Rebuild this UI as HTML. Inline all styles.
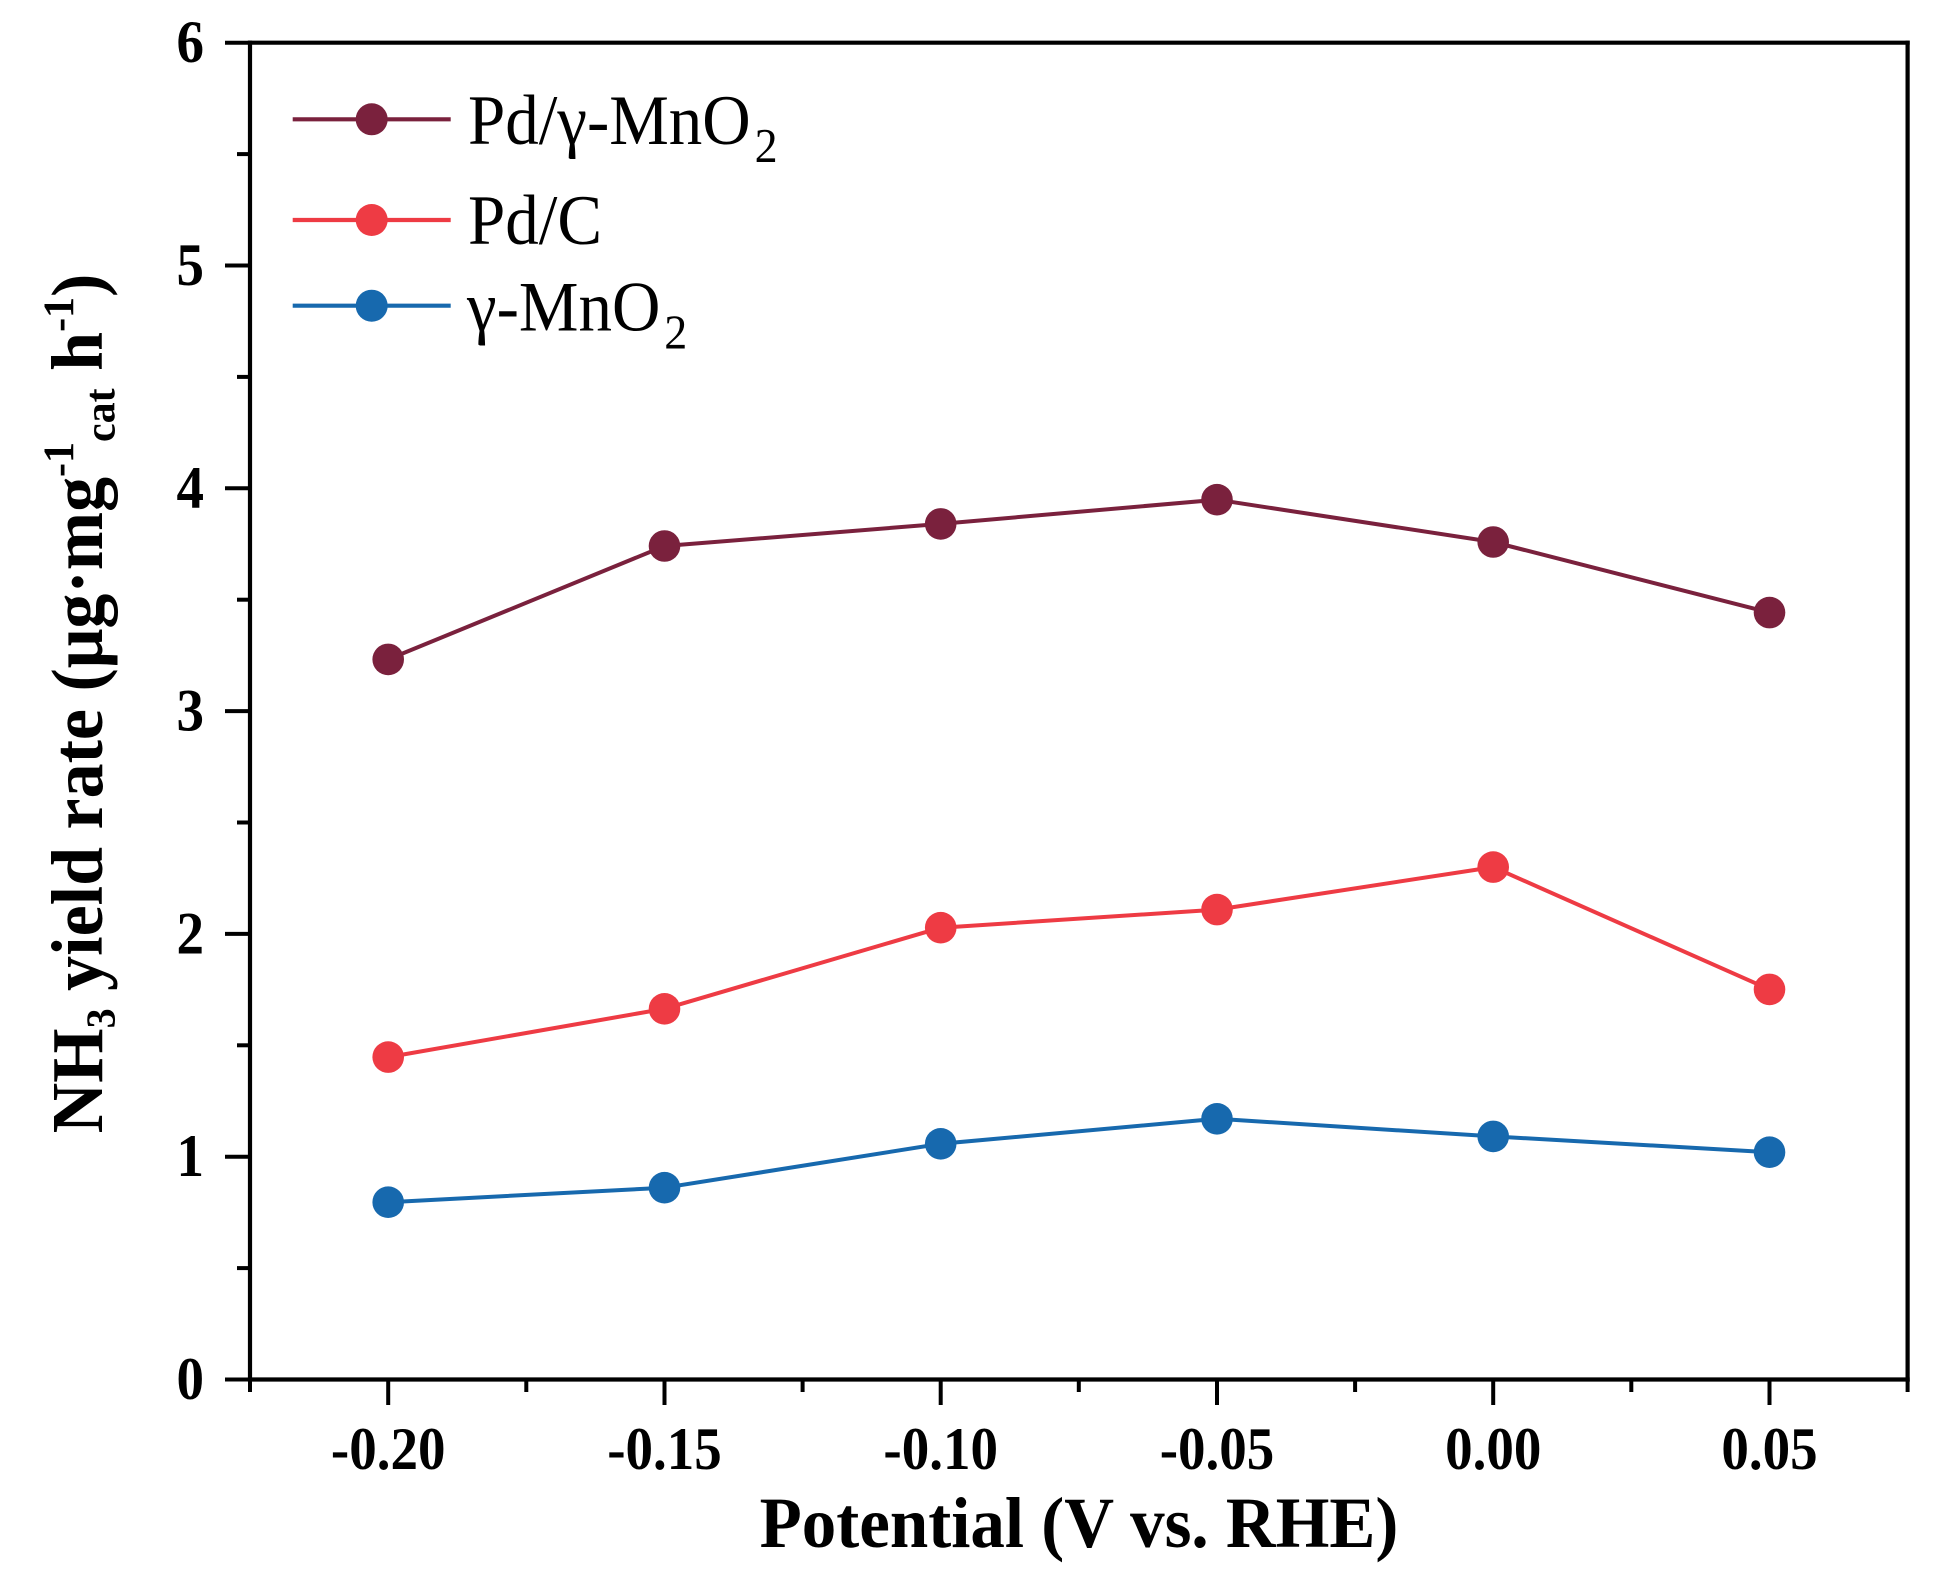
<!DOCTYPE html>
<html>
<head>
<meta charset="utf-8">
<style>
  html, body { margin:0; padding:0; background:#ffffff; }
  svg { display:block; }
  text { font-family: "Liberation Serif", "DejaVu Serif", serif; fill:#000; }
</style>
</head>
<body>
<svg width="1936" height="1591" viewBox="0 0 1936 1591" xmlns="http://www.w3.org/2000/svg">
  <rect x="0" y="0" width="1936" height="1591" fill="#ffffff"/>

  <!-- Axes frame -->
  <g stroke="#000" stroke-width="4.2" fill="none" stroke-linecap="square">
    <line x1="250" y1="42.7" x2="1907.6" y2="42.7"/>
    <line x1="250" y1="1379.5" x2="1907.6" y2="1379.5"/>
    <line x1="250" y1="42.7" x2="250" y2="1379.5"/>
    <line x1="1907.6" y1="42.7" x2="1907.6" y2="1379.5"/>
  </g>

  <!-- Y ticks -->
  <g stroke="#000" stroke-width="4">
    <line x1="225" y1="1379.5" x2="250" y2="1379.5"/>
    <line x1="225" y1="1156.7" x2="250" y2="1156.7"/>
    <line x1="225" y1="933.9" x2="250" y2="933.9"/>
    <line x1="225" y1="711.1" x2="250" y2="711.1"/>
    <line x1="225" y1="488.3" x2="250" y2="488.3"/>
    <line x1="225" y1="265.5" x2="250" y2="265.5"/>
    <line x1="225" y1="42.7" x2="250" y2="42.7"/>
    <line x1="237" y1="1268.1" x2="250" y2="1268.1"/>
    <line x1="237" y1="1045.3" x2="250" y2="1045.3"/>
    <line x1="237" y1="822.5" x2="250" y2="822.5"/>
    <line x1="237" y1="599.7" x2="250" y2="599.7"/>
    <line x1="237" y1="376.9" x2="250" y2="376.9"/>
    <line x1="237" y1="154.1" x2="250" y2="154.1"/>
  </g>

  <!-- X ticks -->
  <g stroke="#000" stroke-width="4">
    <line x1="388.2" y1="1379.5" x2="388.2" y2="1405"/>
    <line x1="664.5" y1="1379.5" x2="664.5" y2="1405"/>
    <line x1="940.7" y1="1379.5" x2="940.7" y2="1405"/>
    <line x1="1217" y1="1379.5" x2="1217" y2="1405"/>
    <line x1="1493.2" y1="1379.5" x2="1493.2" y2="1405"/>
    <line x1="1769.5" y1="1379.5" x2="1769.5" y2="1405"/>
    <line x1="250" y1="1379.5" x2="250" y2="1392"/>
    <line x1="526.3" y1="1379.5" x2="526.3" y2="1392"/>
    <line x1="802.6" y1="1379.5" x2="802.6" y2="1392"/>
    <line x1="1078.8" y1="1379.5" x2="1078.8" y2="1392"/>
    <line x1="1355.1" y1="1379.5" x2="1355.1" y2="1392"/>
    <line x1="1631.3" y1="1379.5" x2="1631.3" y2="1392"/>
    <line x1="1907.6" y1="1379.5" x2="1907.6" y2="1392"/>
  </g>

  <!-- Y tick labels -->
  <g font-size="55" font-weight="bold" text-anchor="end">
    <text transform="translate(204,1399) scale(1,1.1)">0</text>
    <text transform="translate(204,1176.2) scale(1,1.1)">1</text>
    <text transform="translate(204,953.4) scale(1,1.1)">2</text>
    <text transform="translate(204,730.6) scale(1,1.1)">3</text>
    <text transform="translate(204,507.8) scale(1,1.1)">4</text>
    <text transform="translate(204,285) scale(1,1.1)">5</text>
    <text transform="translate(204,62.2) scale(1,1.1)">6</text>
  </g>

  <!-- X tick labels -->
  <g font-size="55" font-weight="bold" text-anchor="middle">
    <text transform="translate(388.2,1469) scale(1,1.1)">-0.20</text>
    <text transform="translate(664.5,1469) scale(1,1.1)">-0.15</text>
    <text transform="translate(940.7,1469) scale(1,1.1)">-0.10</text>
    <text transform="translate(1217,1469) scale(1,1.1)">-0.05</text>
    <text transform="translate(1493.2,1469) scale(1,1.1)">0.00</text>
    <text transform="translate(1769.5,1469) scale(1,1.1)">0.05</text>
  </g>

  <!-- X axis title -->
  <text transform="translate(1079,1547) scale(1,1.05)" font-size="69" font-weight="bold" text-anchor="middle">Potential (V vs. RHE)</text>

  <!-- Y axis title -->
  <text transform="translate(102,703.5) rotate(-90) scale(1,1.04)" font-size="70" font-weight="bold" text-anchor="middle">NH<tspan font-size="40" dy="12">3</tspan><tspan dy="-12"> yield rate (μg·mg</tspan><tspan font-size="42" dy="-28">-1</tspan><tspan font-size="42" dy="40">cat</tspan><tspan dy="-12"> h</tspan><tspan font-size="42" dy="-28">-1</tspan><tspan dy="28">)</tspan></text>

  <!-- Series: γ-MnO2 (blue) -->
  <g>
    <polyline fill="none" stroke="#1769AE" stroke-width="4" stroke-linejoin="round"
      points="388.2,1202.2 664.5,1187.7 940.7,1143.8 1217,1118.8 1493.2,1136.4 1769.5,1152.2"/>
    <g fill="#1769AE">
      <circle cx="388.2" cy="1202.2" r="15.8"/>
      <circle cx="664.5" cy="1187.7" r="15.8"/>
      <circle cx="940.7" cy="1143.8" r="15.8"/>
      <circle cx="1217" cy="1118.8" r="15.8"/>
      <circle cx="1493.2" cy="1136.4" r="15.8"/>
      <circle cx="1769.5" cy="1152.2" r="15.8"/>
    </g>
  </g>

  <!-- Series: Pd/C (red) -->
  <g>
    <polyline fill="none" stroke="#EE3B44" stroke-width="4" stroke-linejoin="round"
      points="388.2,1057.1 664.5,1008.8 940.7,927.7 1217,909.6 1493.2,867.1 1769.5,989.4"/>
    <g fill="#EE3B44">
      <circle cx="388.2" cy="1057.1" r="15.8"/>
      <circle cx="664.5" cy="1008.8" r="15.8"/>
      <circle cx="940.7" cy="927.7" r="15.8"/>
      <circle cx="1217" cy="909.6" r="15.8"/>
      <circle cx="1493.2" cy="867.1" r="15.8"/>
      <circle cx="1769.5" cy="989.4" r="15.8"/>
    </g>
  </g>

  <!-- Series: Pd/γ-MnO2 (maroon) -->
  <g>
    <polyline fill="none" stroke="#7A213D" stroke-width="4" stroke-linejoin="round"
      points="388.2,659.4 664.5,546 940.7,523.9 1217,499.7 1493.2,542 1769.5,612.6"/>
    <g fill="#7A213D">
      <circle cx="388.2" cy="659.4" r="15.8"/>
      <circle cx="664.5" cy="546" r="15.8"/>
      <circle cx="940.7" cy="523.9" r="15.8"/>
      <circle cx="1217" cy="499.7" r="15.8"/>
      <circle cx="1493.2" cy="542" r="15.8"/>
      <circle cx="1769.5" cy="612.6" r="15.8"/>
    </g>
  </g>

  <!-- Legend -->
  <g>
    <line x1="292.7" y1="119.3" x2="450.7" y2="119.3" stroke="#7A213D" stroke-width="4.2"/>
    <circle cx="371.7" cy="119.3" r="16" fill="#7A213D"/>
    <line x1="292.7" y1="220" x2="450.7" y2="220" stroke="#EE3B44" stroke-width="4.2"/>
    <circle cx="371.7" cy="220" r="16" fill="#EE3B44"/>
    <line x1="292.7" y1="305.7" x2="450.7" y2="305.7" stroke="#1769AE" stroke-width="4.2"/>
    <circle cx="371.7" cy="305.7" r="16" fill="#1769AE"/>
  </g>
  <g font-size="67">
    <text transform="translate(468,144) scale(1,1.06)">Pd/γ-MnO<tspan font-size="46" dx="4" dy="17">2</tspan></text>
    <text transform="translate(468,244) scale(1,1.06)">Pd/C</text>
    <text transform="translate(467,330.7) scale(1,1.06)">γ-MnO<tspan font-size="46" dx="4" dy="17">2</tspan></text>
  </g>
</svg>
</body>
</html>
